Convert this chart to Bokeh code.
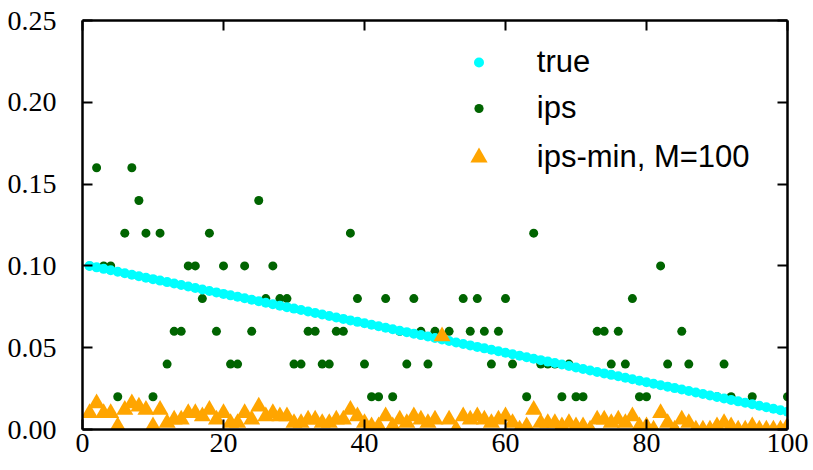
from bokeh.plotting import figure
from bokeh.models import (Range1d, LinearAxis, FixedTicker, PrintfTickFormatter,
                          Legend, LegendItem, ColumnDataSource)
from bokeh.embed import file_html
from bokeh.resources import INLINE

# ---------------- data ----------------
x_idx = list(range(1, 101))

true_vals = [
    0.1000, 0.0991, 0.0982, 0.0973, 0.0964, 0.0955, 0.0946, 0.0937, 0.0928, 0.0919,
    0.0910, 0.0901, 0.0892, 0.0883, 0.0874, 0.0865, 0.0856, 0.0847, 0.0838, 0.0829,
    0.0820, 0.0811, 0.0802, 0.0793, 0.0784, 0.0775, 0.0766, 0.0757, 0.0748, 0.0739,
    0.0730, 0.0721, 0.0712, 0.0703, 0.0694, 0.0685, 0.0676, 0.0667, 0.0658, 0.0649,
    0.0640, 0.0631, 0.0622, 0.0613, 0.0604, 0.0595, 0.0586, 0.0577, 0.0568, 0.0559,
    0.0550, 0.0541, 0.0532, 0.0523, 0.0514, 0.0505, 0.0496, 0.0487, 0.0478, 0.0469,
    0.0460, 0.0451, 0.0442, 0.0433, 0.0424, 0.0415, 0.0406, 0.0397, 0.0388, 0.0379,
    0.0370, 0.0361, 0.0352, 0.0343, 0.0334, 0.0325, 0.0316, 0.0307, 0.0298, 0.0289,
    0.0280, 0.0271, 0.0262, 0.0253, 0.0244, 0.0235, 0.0226, 0.0217, 0.0208, 0.0199,
    0.0190, 0.0181, 0.0172, 0.0163, 0.0154, 0.0145, 0.0136, 0.0127, 0.0118, 0.0109,
]

# x=51 lies above the visible range (0.25) in the reference
ips_vals = [
    0.10, 0.16, 0.10, 0.10, 0.02, 0.12, 0.16, 0.14, 0.12, 0.02,
    0.12, 0.04, 0.06, 0.06, 0.10, 0.10, 0.08, 0.12, 0.06, 0.10,
    0.04, 0.04, 0.10, 0.06, 0.14, 0.08, 0.10, 0.08, 0.08, 0.04,
    0.04, 0.06, 0.06, 0.04, 0.04, 0.06, 0.06, 0.12, 0.08, 0.04,
    0.02, 0.02, 0.08, 0.02, 0.06, 0.04, 0.08, 0.06, 0.04, 0.06,
    0.57, 0.06, 0.00, 0.08, 0.06, 0.08, 0.06, 0.04, 0.06, 0.08,
    0.04, 0.00, 0.02, 0.12, 0.04, 0.04, 0.04, 0.02, 0.04, 0.02,
    0.02, 0.00, 0.06, 0.06, 0.04, 0.06, 0.04, 0.08, 0.02, 0.02,
    0.00, 0.10, 0.04, 0.00, 0.06, 0.04, 0.00, 0.00, 0.00, 0.02,
    0.04, 0.02, 0.00, 0.00, 0.02, 0.00, 0.00, 0.00, 0.00, 0.02,
]

ipsmin_vals = [
    0.010, 0.016, 0.010, 0.010, 0.002, 0.012, 0.016, 0.014, 0.012, 0.002,
    0.012, 0.004, 0.006, 0.006, 0.010, 0.010, 0.008, 0.012, 0.006, 0.010,
    0.004, 0.004, 0.010, 0.006, 0.014, 0.008, 0.010, 0.008, 0.008, 0.004,
    0.004, 0.006, 0.006, 0.004, 0.004, 0.006, 0.006, 0.012, 0.008, 0.004,
    0.002, 0.002, 0.008, 0.002, 0.006, 0.004, 0.008, 0.006, 0.004, 0.006,
    0.057, 0.006, 0.000, 0.008, 0.006, 0.008, 0.006, 0.004, 0.006, 0.008,
    0.004, 0.000, 0.002, 0.012, 0.004, 0.004, 0.004, 0.002, 0.004, 0.002,
    0.002, 0.000, 0.006, 0.006, 0.004, 0.006, 0.004, 0.008, 0.002, 0.002,
    0.000, 0.010, 0.004, 0.000, 0.006, 0.004, 0.000, 0.000, 0.000, 0.002,
    0.004, 0.002, 0.000, 0.000, 0.002, 0.000, 0.000, 0.000, 0.000, 0.002,
]

x_ticks = [0, 20, 40, 60, 80, 100]
y_ticks = [0.0, 0.05, 0.10, 0.15, 0.20, 0.25]
series_labels = ["true", "ips", "ips-min, M=100"]

# ---------------- figure ----------------
p = figure(width=813, height=470,
           x_range=Range1d(0, 100), y_range=Range1d(0, 0.25),
           output_backend="svg", toolbar_location=None,
           x_axis_location=None, y_axis_location=None,
           min_border_left=82, min_border_right=26,
           min_border_top=20, min_border_bottom=41)
p.grid.visible = False
p.outline_line_color = None
p.background_fill_color = "white"
p.border_fill_color = "white"

TICK_FONT = "Liberation Serif"
TICK_SIZE = "28px"


def style_axis(ax, ticks, show_labels):
    ax.ticker = FixedTicker(ticks=ticks)
    ax.major_tick_in = 10
    ax.major_tick_out = 0
    ax.minor_tick_in = 0
    ax.minor_tick_out = 0
    ax.axis_line_width = 2.5
    ax.axis_line_color = "black"
    ax.major_tick_line_width = 2
    ax.major_tick_line_color = "black"
    if show_labels:
        ax.major_label_text_font = TICK_FONT
        ax.major_label_text_font_size = TICK_SIZE
        ax.major_label_text_color = "black"
    else:
        ax.major_label_overrides = {t: "" for t in ticks}
        ax.major_label_standoff = 0


xb = LinearAxis()
style_axis(xb, x_ticks, True)
xb.major_label_standoff = 4
xt = LinearAxis()
style_axis(xt, x_ticks, False)
yl = LinearAxis(formatter=PrintfTickFormatter(format="%.2f"))
style_axis(yl, y_ticks, True)
yl.major_label_standoff = 26
yr = LinearAxis()
style_axis(yr, y_ticks, False)

p.add_layout(xb, "below")
p.add_layout(xt, "above")
p.add_layout(yl, "left")
p.add_layout(yr, "right")

# ---------------- glyphs ----------------
src = ColumnDataSource(dict(x=x_idx, true=true_vals, ips=ips_vals, ipsmin=ipsmin_vals))

r_ips = p.scatter("x", "ips", source=src, marker="circle", size=9,
                  fill_color="#006400", line_color=None)
r_true = p.scatter("x", "true", source=src, marker="circle", size=10,
                   fill_color="#00FFFF", line_color=None)
r_min = p.scatter("x", "ipsmin", source=src, marker="triangle", size=17,
                  fill_color="#FFA500", line_color=None)

# ---------------- legends (one per entry so marker sizes can differ) ----------------
GH = 44


def add_legend(label, rend, gw, standoff, cx, cy):
    leg = Legend(items=[LegendItem(label=label, renderers=[rend])],
                 location=(cx - gw / 2, cy - GH / 2),
                 glyph_width=gw, glyph_height=GH, label_height=GH,
                 label_standoff=standoff, padding=0, margin=0, spacing=0,
                 border_line_color=None, background_fill_alpha=0,
                 label_text_font="Liberation Sans", label_text_font_size="31px",
                 label_text_color="black")
    p.add_layout(leg)


add_legend(series_labels[0], r_true, 25, 46, 396.3, 366.7)
add_legend(series_labels[1], r_ips, 23, 47, 396.3, 321.3)
add_legend(series_labels[2], r_min, 43, 37, 396.3, 272.3)

open("out.html", "w").write(file_html(p, INLINE))
